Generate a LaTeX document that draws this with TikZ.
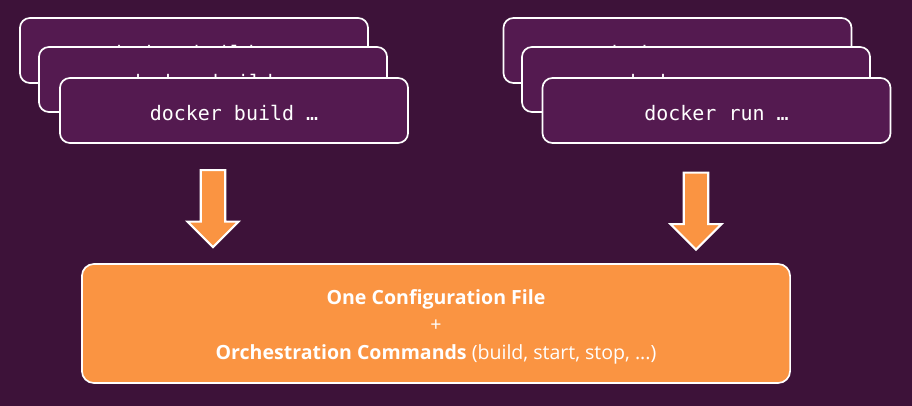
\documentclass[tikz,border=0pt]{standalone}
\usepackage{fontspec}
\setmainfont{Open Sans}
\setmonofont{DejaVu Sans Mono}
\usetikzlibrary{shapes.arrows}
\definecolor{bgpurple}{HTML}{3D1239}
\definecolor{boxpurple}{HTML}{541A50}
\definecolor{dockorange}{HTML}{FA9442}
\begin{document}
\begin{tikzpicture}[x=0.025cm,y=-0.025cm,
    cmd/.style={draw=white,line width=1.2pt,fill=boxpurple,rounded corners=0.25cm,
      minimum width=8.7cm,minimum height=1.625cm,text=white,
      text height=13.8pt,text depth=0pt,
      font=\ttfamily\fontsize{14.2}{16}\selectfont},
    bigarrow/.style={single arrow,draw=white,line width=1.5pt,fill=dockorange,
      shape border rotate=270,inner sep=0.28cm,single arrow head extend=0.33cm,
      minimum height=1.925cm},
    config/.style={draw=white,line width=1.2pt,fill=dockorange,rounded corners=0.3cm,
      minimum width=17.7cm,minimum height=2.975cm},
    configtext/.style={text=white,align=center,font=\fontsize{13.9}{19.5}\selectfont}]
  \fill[bgpurple] (0,0) rectangle (912,406);
  \useasboundingbox (0,0) rectangle (912,406);
  % build stack
  \node[cmd] (build1) at (194,50.5) {docker build …};
  \node[cmd] (build2) at (213,79.5) {docker build …};
  \node[cmd] (build3) at (234,110.5) {docker build …};
  % run stack
  \node[cmd] (run1) at (677.5,50.5) {docker run …};
  \node[cmd] (run2) at (696,79.5) {docker run …};
  \node[cmd] (run3) at (716.5,110.5) {docker run …};
  % arrows
  \node[bigarrow] (buildarrow) at (213,202.5) {};
  \node[bigarrow] (runarrow) at (696,205) {};
  % compose
  \node[config] (compose) at (436,323.5) {};
  \node[configtext] (composetext) at (436,326.5)
    {\textbf{One Configuration File}\\+\\\textbf{Orchestration Commands} (build, start, stop, ...)};
\end{tikzpicture}
\end{document}
